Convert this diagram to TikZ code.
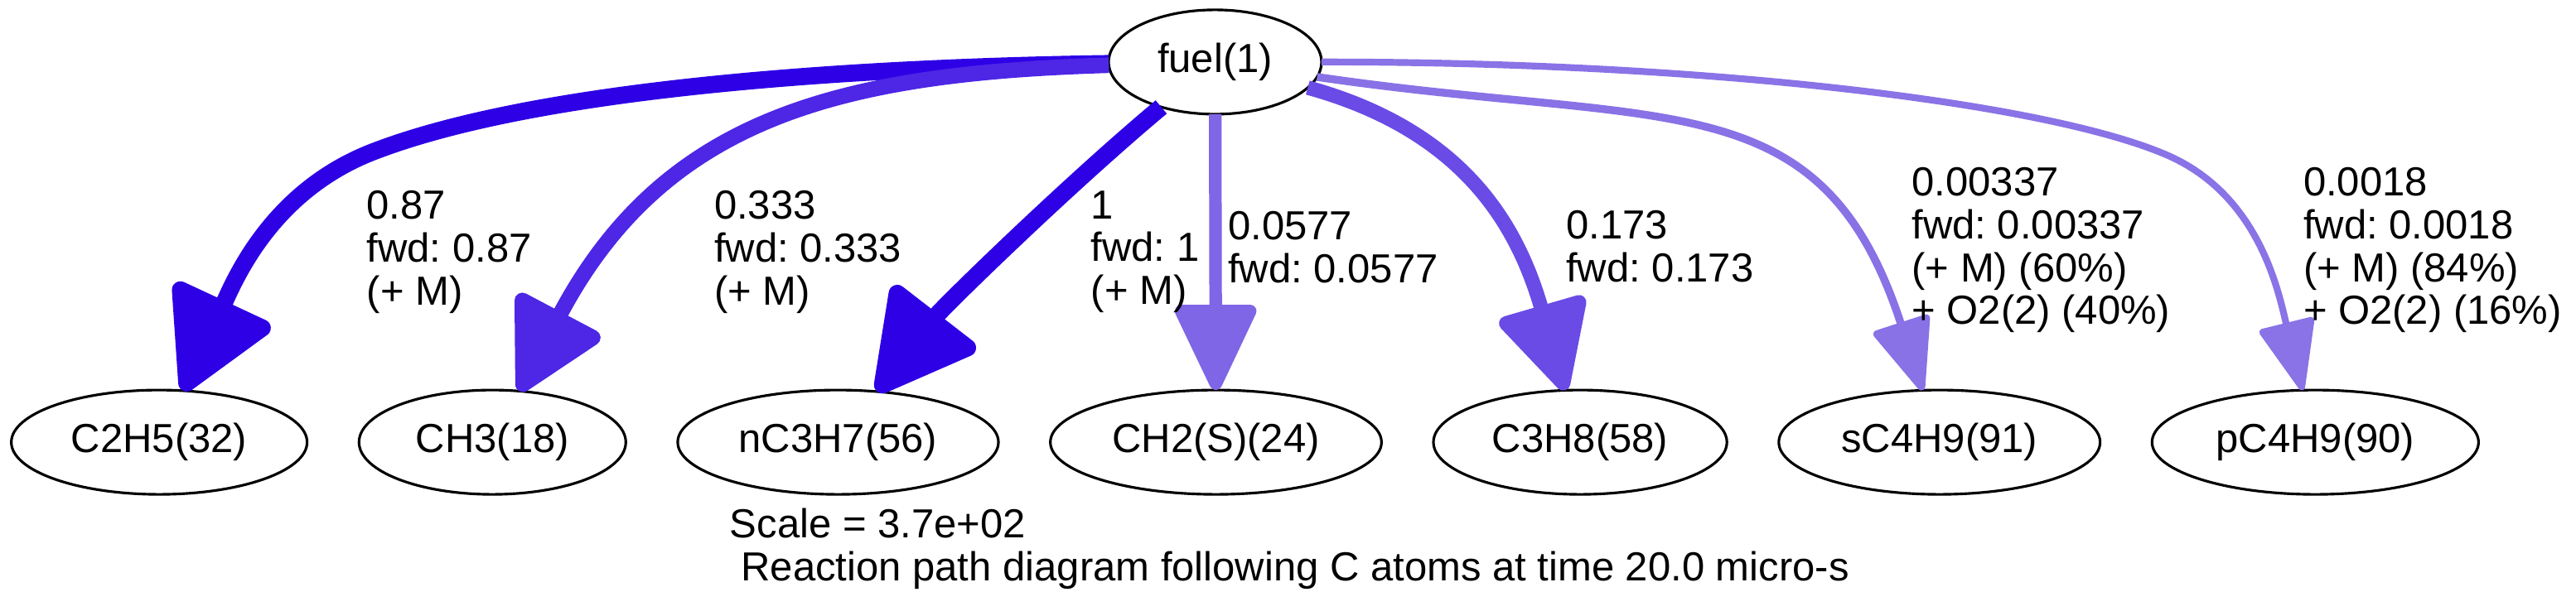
\documentclass[tikz,border=0pt]{standalone}
\usepackage{fontspec}
\setmainfont{Liberation Sans}
\frenchspacing
\usetikzlibrary{matrix,shapes.geometric,arrows.meta}
\definecolor{cfull}{RGB}{46,0,230}
\definecolor{cch3}{RGB}{77,38,230}
\definecolor{cch2s}{RGB}{127,102,230}
\definecolor{cc3h8}{RGB}{106,75,230}
\definecolor{csc4h9}{RGB}{137,114,230}
\definecolor{cpc4h9}{RGB}{138,115,230}
\begin{document}
\begin{tikzpicture}[x=1pt,y=1pt,
	font=\fontsize{14}{14.8}\selectfont,
	species/.style={draw,ellipse,line width=0.9pt,minimum height=36pt,inner xsep=0pt,inner ysep=2pt,outer sep=0pt},
	lbl/.style={align=left,anchor=north west,inner sep=0pt},
	flux/.style n args={4}{draw=#1,line width=#2,-{Triangle[length=#3,width=#4,round]}}]
	\useasboundingbox (0,0) rectangle (888.3,212.3);
	\node[species,minimum width=73.4pt] (fuel) at (419,190.9) {fuel(1)};
	\matrix (sp) [matrix of nodes,column sep=17pt,inner sep=0pt,anchor=west,nodes={species}] at (3.25,59.7) {
		|[minimum width=102pt]| C2H5(32) & |[minimum width=92pt]| CH3(18) & |[minimum width=110.6pt]| nC3H7(56) & |[minimum width=114.2pt]| CH2(S)(24) & |[minimum width=101.2pt]| C3H8(58) & |[minimum width=110.8pt]| sC4H9(91) & |[minimum width=112.6pt]| pC4H9(90) \\
	};
	\draw[flux={cfull}{5.92pt}{37.5pt}{39.5pt}] (fuel) .. controls (290,189) and (184.4,181.5) .. (128.6,159.9) .. controls (93.3,146.2) and (80.8,115.3) .. (sp-1-1);
	\draw[flux={cch3}{5.36pt}{34pt}{35pt}] (fuel) .. controls (290,187) and (229.1,171.9) .. (sp-1-2);
	\draw[flux={cfull}{6pt}{37.5pt}{39pt}] (fuel) .. controls (368.5,148.7) and (325.1,106.3) .. (sp-1-3);
	\draw[flux={cch2s}{4.35pt}{32.5pt}{29.5pt}] (fuel) -- (sp-1-4);
	\draw[flux={cc3h8}{4.98pt}{33.5pt}{33pt}] (fuel) .. controls (506.2,166.8) and (523.7,132.9) .. (sp-1-5);
	\draw[flux={csc4h9}{2.7pt}{27pt}{21pt}] (fuel) .. controls (575,168) and (628,185) .. (sp-1-6);
	\draw[flux={cpc4h9}{2.34pt}{26pt}{20pt}] (fuel) .. controls (590,191) and (705.6,176.7) .. (747,158.9) .. controls (779.2,145.1) and (785.7,111.4) .. (sp-1-7);
	\node[lbl] (lc2h5) at (126.3,146.7) {0.87\\fwd: 0.87\\(+ M)};
	\node[lbl] (lch3) at (246.1,146.7) {0.333\\fwd: 0.333\\(+ M)};
	\node[lbl] (lnc3h7) at (376,146.7) {1\\fwd: 1\\(+ M)};
	\node[lbl] (lch2s) at (423.3,139.5) {0.0577\\fwd: 0.0577};
	\node[lbl] (lc3h8) at (539.9,139.8) {0.173\\fwd: 0.173};
	\node[lbl] (lsc4h9) at (659.1,154.7) {0.00337\\fwd: 0.00337\\(+ M) (60\%)\\+ O2(2) (40\%)};
	\node[lbl] (lpc4h9) at (794.1,154.7) {0.0018\\fwd: 0.0018\\(+ M) (84\%)\\+ O2(2) (16\%)};
	\node[lbl] (caption) at (251.5,37.1) {Scale = 3.7e+02\\\ Reaction path diagram following C atoms at time 20.0 micro-s};
\end{tikzpicture}
\end{document}
